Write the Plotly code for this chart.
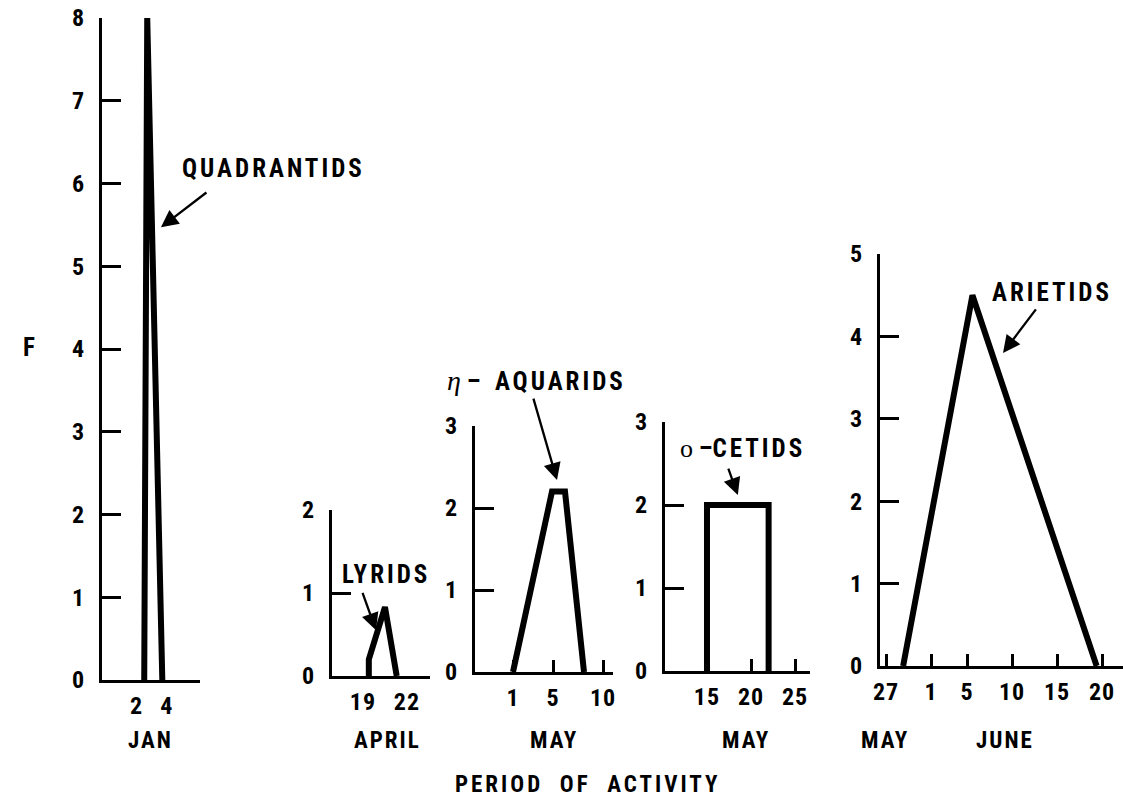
import plotly.graph_objects as go

W, H = 1123, 802

# ---- activity profiles (x = day of month, y = F) ----
quad_x = [2.5, 2.7, 3.7]            # Quadrantids, January
quad_y = [0, 8, 0]
lyr_x = [19.4, 19.4, 20.5, 21.3]    # Lyrids, April
lyr_y = [0, 0.2, 0.83, 0]
aqu_x = [1, 4.9, 6.2, 8.1]          # eta-Aquarids, May
aqu_y = [0, 2.2, 2.2, 0]
cet_x = [15, 15, 22, 22]            # omicron-Cetids, May
cet_y = [0, 2, 2, 0]
ari_x = [-2.1, 5.6, 19.4]           # Arietids, days from 31 May
ari_y = [0, 4.5, 0]

# ---- tick labels ----
quad_ticks = [2, 4]
lyr_ticks = [19, 22]
aqu_ticks = [1, 5, 10]
cet_ticks = [15, 20, 25]
ari_ticks = [-4, 1, 5, 10, 15, 20]
ari_ticktext = ["27", "1", "5", "10", "15", "20"]
f_max = [8, 2, 3, 3, 5]

FONT = "Roboto, DejaVu Sans, sans-serif"
SERIF = "Liberation Serif, DejaVu Serif, serif"
TICK_FS = 24
TEXT_FS = 25
MONTH_FS = 23


def cond(t, spacing=3):
    return (f'<span style="font-family:Roboto;font-stretch:condensed;'
            f'letter-spacing:{spacing}px">{t}</span>')


def px(x):
    return x / W


def py(y):
    return (H - y) / H


# panel layout: (x pixel left, x pixel right, x range, y pixel bottom, y pixel top)
panels = [
    (102, 200, [-0.3, 6.2], 680, 18),
    (332, 430, [16.89, 23.57], 676, 510),
    (475, 613, [-2.8, 11.0], 672, 426),
    (665, 810, [10.23, 26.7], 671, 422),
    (880, 1123, [-4.67, 22.33], 666, 254),
]

series = [
    (quad_x, quad_y),
    (lyr_x, lyr_y),
    (aqu_x, aqu_y),
    (cet_x, cet_y),
    (ari_x, ari_y),
]

xticks = [
    (quad_ticks, [str(t) for t in quad_ticks], ""),
    (lyr_ticks, [str(t) for t in lyr_ticks], ""),
    (aqu_ticks, [str(t) for t in aqu_ticks], "inside"),
    (cet_ticks, [str(t) for t in cet_ticks], "inside"),
    (ari_ticks, ari_ticktext, "inside"),
]

fig = go.Figure()
layout = {}
for i, ((xs, ys), (xl, xr, xrng, yb, yt), (tv, tt, tdir), fm) in enumerate(
        zip(series, panels, xticks, f_max), start=1):
    xa = "x" if i == 1 else f"x{i}"
    ya = "y" if i == 1 else f"y{i}"
    fig.add_trace(go.Scatter(
        x=xs, y=ys, xaxis=xa, yaxis=ya, mode="lines",
        line=dict(color="black", width=6), showlegend=False,
        hoverinfo="skip"))
    layout[f"xaxis{i if i > 1 else ''}"] = dict(
        domain=[px(xl), px(xr)], range=xrng, anchor=ya,
        showline=True, linecolor="black", linewidth=3,
        showgrid=False, zeroline=False, automargin=False,
        tickmode="array", tickvals=tv,
        ticktext=[cond(t, 1) for t in tt],
        ticks=tdir, ticklen=12, tickwidth=2.5, tickcolor="black",
        ticklabelstandoff=2,
        tickfont=dict(family=FONT, size=TICK_FS, color="black", weight="bold"),
    )
    yv = list(range(0, fm + 1))
    layout[f"yaxis{i if i > 1 else ''}"] = dict(
        domain=[py(yb), py(yt)], range=[0, fm], anchor=xa,
        showline=True, linecolor="black", linewidth=3,
        showgrid=False, zeroline=False, automargin=False,
        tickmode="array", tickvals=yv,
        ticktext=[cond(str(v), 1) for v in yv],
        ticks="inside", ticklen=19, tickwidth=2.5, tickcolor="black",
        ticklabelstandoff=9,
        tickfont=dict(family=FONT, size=TICK_FS, color="black", weight="bold"),
    )

fig.update_layout(**layout)

annotations = []


def label(text, x, y, size=TEXT_FS):
    annotations.append(dict(
        text=text, x=px(x), y=py(y), xref="paper", yref="paper",
        showarrow=False, xanchor="center", yanchor="middle",
        font=dict(family=FONT, size=size, color="black", weight="bold")))


def arrow(xa, ya, x, y, ax, ay):
    annotations.append(dict(
        text="", x=x, y=y, xref=xa, yref=ya, ax=ax, ay=ay,
        showarrow=True, arrowhead=2, arrowsize=1.5, arrowwidth=2.3,
        arrowcolor="black", standoff=0))


# shower names
label(cond("QUADRANTIDS"), 273, 168)
label(cond("LYRIDS"), 386, 575)
label(f'<span style="font-family:{SERIF};font-weight:normal;font-size:28px">'
      '<i>η</i></span>' + cond(" – ", 0) + cond(" AQUARIDS"), 536, 380)
label(f'<span style="font-family:{SERIF};font-weight:normal;font-size:26px">'
      'ο</span>' + cond(" –", 0) + cond("CETIDS"), 742, 448)
label(cond("ARIETIDS"), 1052, 292)

# month labels
label(cond("JAN", 2), 150, 740, MONTH_FS)
label(cond("APRIL", 2), 387, 740, MONTH_FS)
label(cond("MAY", 2), 554, 740, MONTH_FS)
label(cond("MAY", 2), 746, 740, MONTH_FS)
label(cond("MAY", 2), 885, 740, MONTH_FS)
label(cond("JUNE", 2), 1005, 740, MONTH_FS)

# axis titles
label(cond("PERIOD  OF  ACTIVITY", 3), 587, 784, MONTH_FS)
label(cond("F"), 30, 348)

# pointers
arrow("x", "y", 3.61, 5.47, 47, -36)
arrow("x2", "y2", 19.89, 0.55, -14, -39)
arrow("x3", "y3", 5.4, 2.34, -24, -83)
arrow("x4", "y4", 18.5, 2.12, -10, -28)
arrow("x5", "y5", 9.0, 3.8, 34, -45)

fig.update_layout(
    template="none",
    width=W, height=H, autosize=False,
    margin=dict(l=0, r=0, t=0, b=0, pad=0),
    paper_bgcolor="white", plot_bgcolor="white",
    annotations=annotations,
    showlegend=False,
)

fig.write_html("out.html")
